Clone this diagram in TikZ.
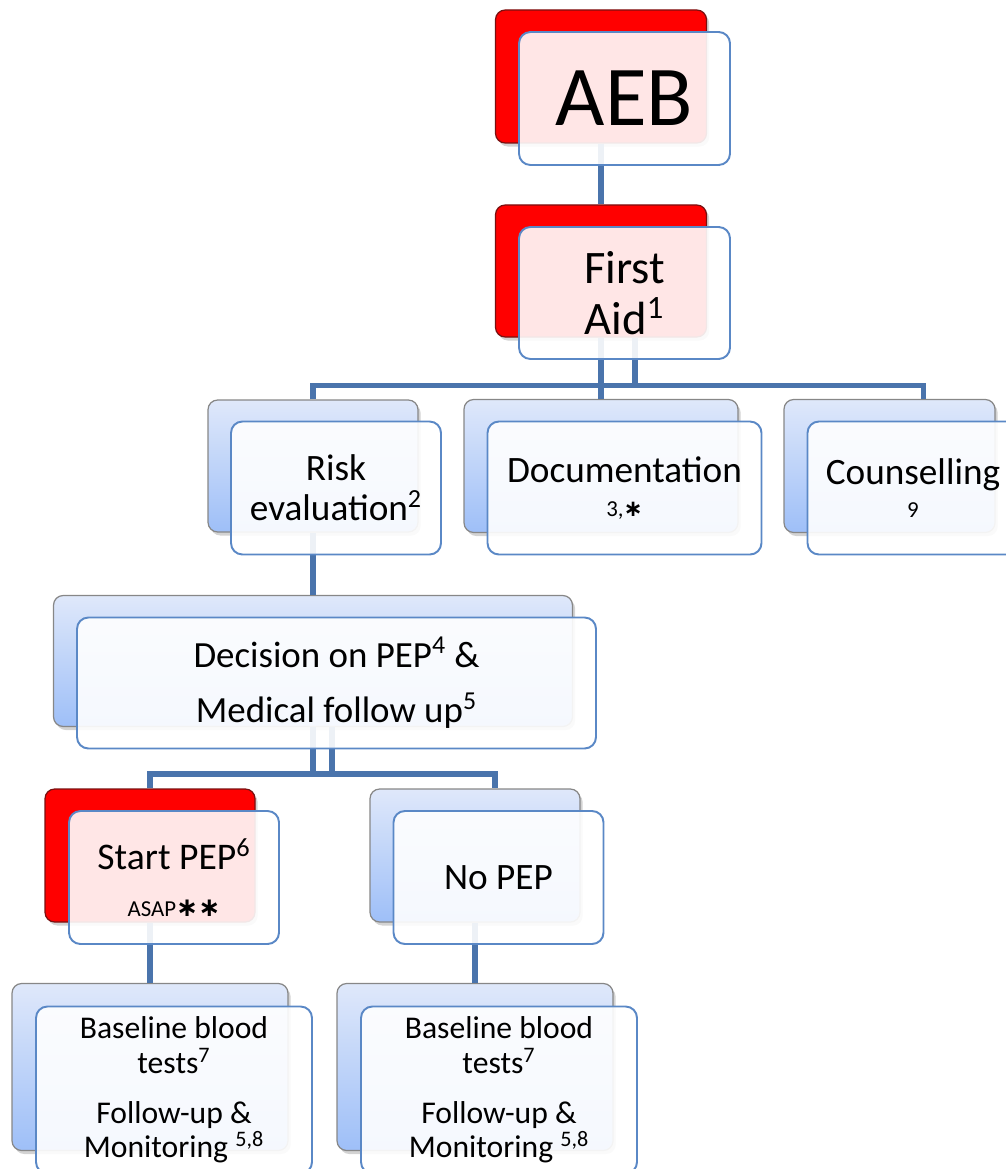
\documentclass[tikz,border=0pt]{standalone}
\usepackage{fontspec}
\setmainfont{Carlito}
\newfontfamily\symfont{DejaVu Sans}
\usetikzlibrary{shadows}
\definecolor{cline}{HTML}{4A74AC}
\definecolor{cframe}{HTML}{5A88C6}
\definecolor{cred}{HTML}{FF0000}
\definecolor{credline}{HTML}{7A1010}
\definecolor{cgrey}{HTML}{878787}
\definecolor{cbluetop}{HTML}{DFE8FA}
\definecolor{cbluebot}{HTML}{9EBFF8}
\newcommand{\pxl}{0.02cm}
\newcommand{\bast}[1][15]{{\fontsize{#1}{14}\symfont\bfseries ∗}}
\tikzset{
  sz/.style 2 args={minimum width=#1*\pxl, minimum height=#2*\pxl},
  back/.style={rectangle, rounded corners=5.5pt, line width=0.7pt, drop shadow={shadow xshift=1.5pt, shadow yshift=-2pt, opacity=0.35}},
  backred/.style={back, draw=credline, fill=cred},
  backblue/.style={back, draw=cgrey, top color=cbluetop, bottom color=cbluebot},
  front/.style={rectangle, rounded corners=6.5pt, draw=cframe, line width=1.1pt, fill=white, fill opacity=0.9, text opacity=1, align=center, inner sep=0pt},
  link/.style={draw=cline, line width=3pt},
}

\begin{document}
\begin{tikzpicture}[x=\pxl, y=-\pxl]
  \useasboundingbox (0,0) rectangle (1006,1169);
  \clip (0,0) rectangle (1006,1169);
  \node[backred, sz={211}{133}] (aebB) at (601,76.5) {};
  \node[backred, sz={211}{132}] (aidB) at (601,271) {};
  \node[backblue, sz={210}{132}] (riskB) at (313,466) {};
  \node[backblue, sz={274}{133}] (docB) at (601,466) {};
  \node[backblue, sz={211}{133}] (counsB) at (889.5,466) {};
  \node[backblue, sz={519}{131}] (decB) at (313,661) {};
  \node[backred, sz={210}{133}] (startB) at (150,855.5) {};
  \node[backblue, sz={210}{133}] (nopepB) at (475,855.5) {};
  \node[backblue, sz={276}{167}] (baseLB) at (150,1067) {};
  \node[backblue, sz={276}{167}] (baseRB) at (475,1067) {};
  \path (aidB.south) ++(0,48) coordinate (hubA);
  \path (decB.south) ++(0,47) coordinate (hubB);
  \draw[link] (aebB.south) -- (aidB.north);
  \draw[link] (aidB.south) -- (docB.north);
  \draw[link] ([xshift=34*\pxl]aidB.south) -- ([xshift=34*\pxl]aidB.south |- hubA);
  \draw[link] (riskB.north) |- (hubA) -| ([xshift=34*\pxl]counsB.north);
  \draw[link] (riskB.south) -- (decB.north);
  \draw[link] (decB.south) -- (hubB);
  \draw[link] ([xshift=19*\pxl]decB.south) -- ([xshift=19*\pxl]decB.south |- hubB);
  \draw[link] (startB.north) |- (hubB) -| ([xshift=20*\pxl]nopepB.north);
  \draw[link] (startB.south) -- (baseLB.north);
  \draw[link] (nopepB.south) -- (baseRB.north);
  \node[front, sz={211}{133}, font=\fontsize{48.5}{58}\selectfont] (aeb) at (624.5,98.5) {AEB};
  \node[front, sz={211}{132}, font=\fontsize{26.5}{29.3}\selectfont] (aid) at (624.5,293) {First\\Aid\textsuperscript{1}};
  \node[front, sz={210}{133}, font=\fontsize{21.2}{22.7}\selectfont] (risk) at (336,488) {Risk\\evaluation\textsuperscript{2}};
  \node[front, sz={274}{133}, font=\fontsize{21.2}{19}\selectfont] (doc) at (624.5,488) {Documentation\\{\fontsize{13}{14}\selectfont 3,\bast[13]}};
  \node[front, sz={211}{133}, font=\fontsize{21.2}{19}\selectfont] (couns) at (913,488) {Counselling\\{\fontsize{13}{14}\selectfont 9}};
  \node[front, sz={519}{131}, font=\fontsize{21}{31.7}\selectfont] (dec) at (336.5,683) {Decision on PEP\textsuperscript{4} \&\\Medical follow up\textsuperscript{5}};
  \node[front, sz={210}{133}, font=\fontsize{21.4}{26.6}\selectfont] (start) at (174,877.5) {Start PEP\textsuperscript{6}\\{\fontsize{13}{14}\selectfont ASAP\bast\bast}};
  \node[front, sz={210}{133}, font=\fontsize{21.2}{24}\selectfont] (nopep) at (498.5,877.5) {No PEP};
  \node[front, sz={276}{167}, font=\fontsize{18}{19.6}\selectfont] (baseL) at (174,1090) {Baseline blood\\tests\textsuperscript{7}\\[9pt]Follow-up \&\\Monitoring \textsuperscript{5,8}};
  \node[front, sz={276}{167}, font=\fontsize{18}{19.6}\selectfont] (baseR) at (499,1090) {Baseline blood\\tests\textsuperscript{7}\\[9pt]Follow-up \&\\Monitoring \textsuperscript{5,8}};
\end{tikzpicture}
\end{document}
